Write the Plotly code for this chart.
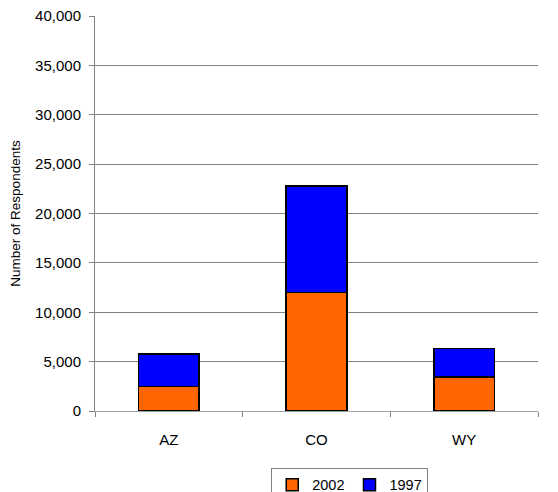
import plotly.graph_objects as go

states = ["AZ", "CO", "WY"]
resp_2002 = [2500, 12000, 3450]
resp_1997 = [3270, 10800, 2900]

font = "Liberation Sans, Arial, sans-serif"

fig = go.Figure()
fig.add_trace(go.Bar(x=states, y=resp_2002, name="2002",
                     marker=dict(color="#ff6600", line=dict(color="black", width=1.5))))
fig.add_trace(go.Bar(x=states, y=resp_1997, name="1997",
                     marker=dict(color="#0000ff", line=dict(color="black", width=1.5))))

# page body adds an 8px offset, so margins are shifted to compensate
fig.update_layout(
    width=558, height=492,
    barmode="stack", bargap=0.59,
    margin=dict(l=87, r=28, t=8, b=89, autoexpand=False),
    plot_bgcolor="white", paper_bgcolor="white",
    font=dict(family=font, size=15, color="black"),
    showlegend=True,
    legend=dict(orientation="h", x=0.575, xanchor="center", y=-0.144, yanchor="top",
                bordercolor="#808080", borderwidth=1, font=dict(size=14.5),
                itemwidth=30, traceorder="normal"),
)
fig.update_xaxes(
    automargin=False,
    showline=True, linecolor="#a0a0a0", linewidth=1,
    ticks="outside", tickson="boundaries", ticklen=5, tickcolor="#808080",
    ticklabelstandoff=15, showgrid=False,
)
fig.update_yaxes(
    automargin=False,
    range=[0, 40000], dtick=5000, tickformat=",",
    showline=True, linecolor="#808080", linewidth=1,
    ticks="outside", ticklen=5, tickcolor="#808080", ticklabelstandoff=5,
    ticklabeloverflow="allow",
    showgrid=True, gridcolor="#808080", gridwidth=1,
    zeroline=False,
    title=dict(text="Number of Respondents", font=dict(size=13.5), standoff=17),
)

fig.write_html("out.html")
